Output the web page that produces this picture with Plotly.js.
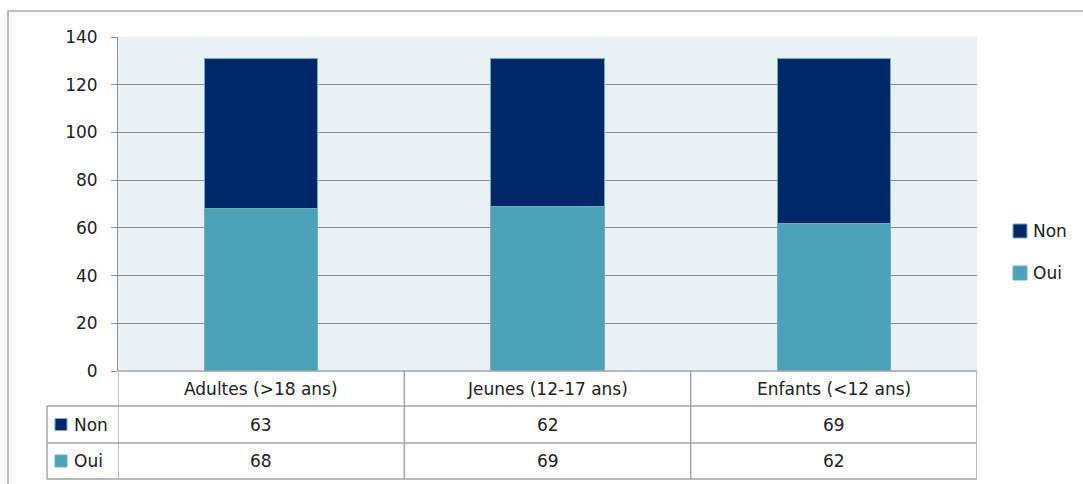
<!DOCTYPE html>
<html>
<head>
<meta charset="utf-8">
<script src="https://cdn.plot.ly/plotly-3.0.1.min.js"></script>
<style>
html,body{margin:0;padding:0;background:#fff;}
#chart{width:1083px;height:484px;}
</style>
</head>
<body>
<div id="chart"></div>
<script>
// ---- data ----
const categories = ["Adultes (>18 ans)", "Jeunes (12-17 ans)", "Enfants (<12 ans)"];
const seriesNames = ["Non", "Oui"];
const nonValues = [63, 62, 69];
const ouiValues = [68, 69, 62];
const yTicks = [0, 20, 40, 60, 80, 100, 120, 140];

// ---- styles ----
const W = 1083, H = 484;
const px = x => x / W;
const py = y => 1 - y / H;
const FONT = "DejaVu Sans, Verdana, sans-serif";
const colNon = "#002868";
const colOui = "#4BA2B7";
const edge = "#6AAFC3";
const gridCol = "#8f8f8f";
const tableCol = "#a3a3a3";
const colors = {Non: colNon, Oui: colOui};
const values = {Non: nonValues, Oui: ouiValues};

const idx = categories.map((c, i) => i);

const traces = [
  {type: "bar", name: "Oui", x: idx, y: ouiValues, marker: {color: colOui, line: {color: edge, width: 1}}, showlegend: false, hoverinfo: "y+name"},
  {type: "bar", name: "Non", x: idx, y: nonValues, marker: {color: colNon, line: {color: edge, width: 1}}, showlegend: false, hoverinfo: "y+name"}
];

const shapes = [];
const annotations = [];

// outer chart border
shapes.push({type: "rect", xref: "paper", yref: "paper", x0: px(8), x1: px(1095), y0: py(11), y1: py(500),
  line: {color: "#a8a8a8", width: 1.5}, fillcolor: "rgba(0,0,0,0)", layer: "above"});

// data table geometry (pixel rows)
const rowTop = 371, rowHdr = 406, rowNon = 443, rowOui = 479;
const leftCol = 47;
const xLeft = -0.5, xRight = categories.length - 0.5;

// horizontal lines
shapes.push({type: "line", xref: "x", yref: "paper", x0: xLeft, x1: xRight, y0: py(rowTop), y1: py(rowTop), line: {color: tableCol, width: 1.5}});
[rowHdr, rowNon, rowOui].forEach(r => {
  shapes.push({type: "line", xref: "paper", yref: "paper", x0: px(leftCol), x1: px(977), y0: py(r), y1: py(r), line: {color: tableCol, width: 1.5}});
});
// vertical lines at category boundaries
for (let i = 0; i <= categories.length; i++) {
  shapes.push({type: "line", xref: "x", yref: "paper", x0: i - 0.5, x1: i - 0.5, y0: py(rowTop), y1: py(rowOui), line: {color: tableCol, width: 1.5}});
}
shapes.push({type: "line", xref: "paper", yref: "paper", x0: px(leftCol), x1: px(leftCol), y0: py(rowHdr), y1: py(rowOui), line: {color: tableCol, width: 1.5}});

// header row: category names
categories.forEach((c, i) => {
  annotations.push({xref: "x", yref: "paper", x: i, y: py((rowTop + rowHdr) / 2), text: c, showarrow: false,
    font: {family: FONT, size: 17, color: "#222"}, xanchor: "center", yanchor: "middle"});
});
// data rows
const rowCenters = {Non: (rowHdr + rowNon) / 2, Oui: (rowNon + rowOui) / 2};
seriesNames.forEach(s => {
  const yc = rowCenters[s];
  shapes.push({type: "rect", xref: "paper", yref: "paper", x0: px(55), x1: px(67), y0: py(yc - 6), y1: py(yc + 6),
    fillcolor: colors[s], line: {color: edge, width: 1}});
  annotations.push({xref: "paper", yref: "paper", x: px(72), y: py(yc), text: s, showarrow: false,
    font: {family: FONT, size: 17, color: "#222"}, xanchor: "left", yanchor: "middle"});
  values[s].forEach((v, i) => {
    annotations.push({xref: "x", yref: "paper", x: i, y: py(yc), text: String(v), showarrow: false,
      font: {family: FONT, size: 17, color: "#222"}, xanchor: "center", yanchor: "middle"});
  });
});

// right legend
const legendY = {Non: 231, Oui: 273};
seriesNames.forEach(s => {
  const yc = legendY[s];
  shapes.push({type: "rect", xref: "paper", yref: "paper", x0: px(1013), x1: px(1027), y0: py(yc - 7), y1: py(yc + 7),
    fillcolor: colors[s], line: {color: edge, width: 1}});
  annotations.push({xref: "paper", yref: "paper", x: px(1031), y: py(yc), text: s, showarrow: false,
    font: {family: FONT, size: 17, color: "#222"}, xanchor: "left", yanchor: "middle"});
});

const layout = {
  width: W, height: H,
  margin: {l: 0, r: 0, t: 0, b: 0, pad: 0},
  paper_bgcolor: "#ffffff",
  plot_bgcolor: "#EAF1F5",
  barmode: "stack",
  bargap: 0.605,
  showlegend: false,
  xaxis: {
    domain: [px(118), px(977)],
    range: [xLeft, xRight],
    showticklabels: false, showgrid: false, zeroline: false, ticks: "",
    fixedrange: true
  },
  yaxis: {
    domain: [py(371), py(37)],
    range: [0, 140],
    tickvals: yTicks,
    ticktext: yTicks.map(String),
    ticks: "outside", ticklen: 6, tickcolor: gridCol, tickwidth: 1,
    showgrid: true, gridcolor: gridCol, gridwidth: 1,
    showline: true, linecolor: gridCol, linewidth: 1,
    zeroline: false,
    tickfont: {family: FONT, size: 17, color: "#222"},
    ticklabelstandoff: 10,
    fixedrange: true
  },
  shapes: shapes,
  annotations: annotations
};

Plotly.newPlot("chart", traces, layout, {displayModeBar: false, staticPlot: true});
</script>
</body>
</html>
